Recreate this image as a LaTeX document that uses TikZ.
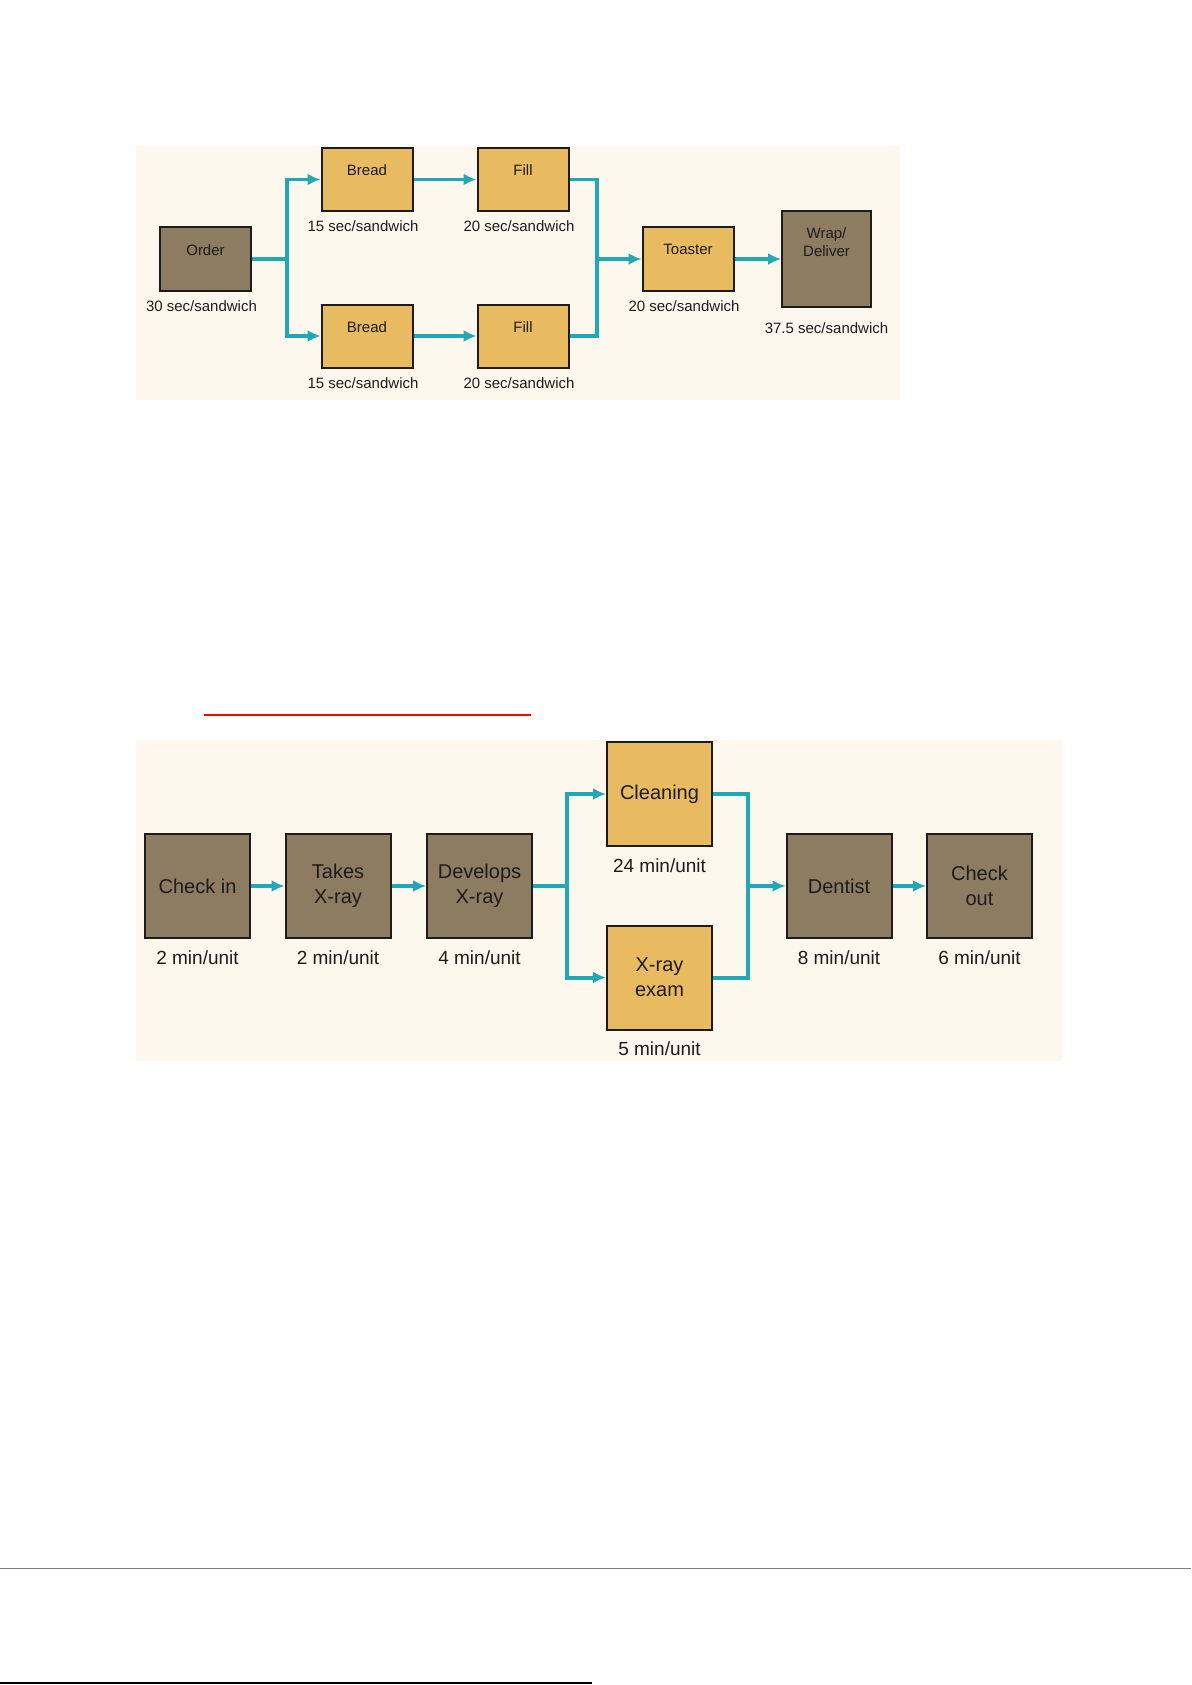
\documentclass[tikz,border=0pt]{standalone}
\usepackage{fontspec}
\setmainfont{Liberation Sans}
\usetikzlibrary{arrows.meta}
\definecolor{panel}{RGB}{253,248,238}
\definecolor{stone}{RGB}{140,124,98}
\definecolor{gold}{RGB}{232,187,96}
\definecolor{flowc}{RGB}{32,168,182}
\definecolor{edge}{RGB}{30,28,26}

\tikzset{
  sand/.style={draw=edge, line width=1pt, inner sep=0pt, minimum width=45.5pt, minimum height=31.5pt},
  sandtext/.style={anchor=north, yshift=-8.8pt, inner sep=0pt, align=center, text=edge, font=\fontsize{7.5}{9}\selectfont},
  sandtime/.style={anchor=north, yshift=-4.2pt, inner sep=0pt, text=edge, font=\fontsize{7.5}{9}\selectfont},
  dent/.style={draw=edge, line width=1pt, inner sep=0pt, minimum width=52.5pt, minimum height=52pt, align=center, text=edge, font=\fontsize{10}{12.5}\selectfont},
  denttime/.style={anchor=north, yshift=-5.5pt, inner sep=0pt, text=edge, font=\fontsize{9.5}{11}\selectfont},
  flow/.style={draw=flowc, line width=1.6pt}
}

\begin{document}
\begin{tikzpicture}[x=0.5pt,y=-0.5pt,>={Latex[length=6.5pt,width=6pt]}]
\useasboundingbox (0,0) rectangle (1191,1685);
\fill[panel] (136,146) rectangle (900,400);
\fill[panel] (136,740) rectangle (1062,1061);

\node[sand, fill=stone, label={[sandtext]north:Order}, label={[sandtime,xshift=-2pt]south:30 sec/sandwich}] (order) at (205.5,259) {};
\node[sand, fill=gold, label={[sandtext]north:Bread}, label={[sandtime,xshift=-2pt]south:15 sec/sandwich}] (bread1) at (367,179.5) {};
\node[sand, fill=gold, label={[sandtext]north:Fill}, label={[sandtime,xshift=-2pt]south:20 sec/sandwich}] (fill1) at (523,179.5) {};
\node[sand, fill=gold, label={[sandtext]north:Bread}, label={[sandtime,xshift=-2pt]south:15 sec/sandwich}] (bread2) at (367,336) {};
\node[sand, fill=gold, label={[sandtext]north:Fill}, label={[sandtime,xshift=-2pt]south:20 sec/sandwich}] (fill2) at (523,336) {};
\node[sand, fill=gold, label={[sandtext]north:Toaster}, label={[sandtime,xshift=-2pt]south:20 sec/sandwich}] (toaster) at (688,259) {};
\node[sand, fill=stone, minimum width=44.5pt, minimum height=48pt, label={[sandtext]north:Wrap/\\Deliver}, label={[sandtime,yshift=-3pt]south:37.5 sec/sandwich}] (wrap) at (826.5,259) {};

\coordinate (split1) at (287,259);
\coordinate (join1) at (597,259);
\draw[flow] (order) -- (split1);
\draw[flow,->] (split1) |- (bread1);
\draw[flow,->] (split1) |- (bread2);
\draw[flow,->] (bread1) -- (fill1);
\draw[flow,->] (bread2) -- (fill2);
\draw[flow] (fill1) -| (join1);
\draw[flow] (fill2) -| (join1);
\draw[flow,->] (join1) -- (toaster);
\draw[flow,->] (toaster) -- (wrap);

\draw[red, line width=1pt] (204,715) -- (531,715);

\node[dent, fill=stone, label={[denttime]south:2 min/unit}] (checkin) at (197.5,886) {Check in};
\node[dent, fill=stone, label={[denttime]south:2 min/unit}] (takes) at (338,886) {Takes\\X-ray};
\node[dent, fill=stone, label={[denttime]south:4 min/unit}] (develops) at (479.5,886) {Develops\\X-ray};
\node[dent, fill=gold, label={[denttime]south:24 min/unit}] (cleaning) at (659.5,794) {Cleaning};
\node[dent, fill=gold, label={[denttime]south:5 min/unit}] (exam) at (659.5,977.5) {X-ray\\exam};
\node[dent, fill=stone, label={[denttime]south:8 min/unit}] (dentist) at (839,886) {Dentist};
\node[dent, fill=stone, label={[denttime]south:6 min/unit}] (checkout) at (979.5,886) {Check\\out};

\coordinate (split2) at (567,886);
\coordinate (join2) at (748,886);
\draw[flow,line width=2pt,->] (checkin) -- (takes);
\draw[flow,line width=2pt,->] (takes) -- (develops);
\draw[flow,line width=2pt] (develops) -- (split2);
\draw[flow,line width=2pt,->] (split2) |- (cleaning);
\draw[flow,line width=2pt,->] (split2) |- (exam);
\draw[flow,line width=2pt] (cleaning) -| (join2);
\draw[flow,line width=2pt] (exam) -| (join2);
\draw[flow,line width=2pt,->] (join2) -- (dentist);
\draw[flow,line width=2pt,->] (dentist) -- (checkout);

\draw[gray, line width=0.5pt] (0,1568) -- (1191,1568);
\draw[black, line width=0.8pt] (0,1683) -- (592,1683);
\end{tikzpicture}
\end{document}
